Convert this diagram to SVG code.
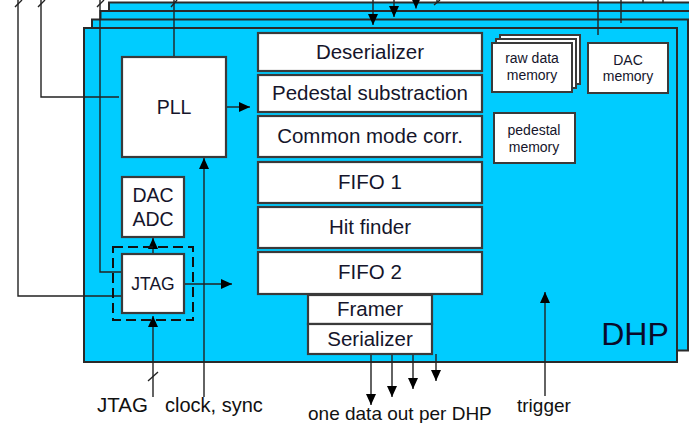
<svg xmlns="http://www.w3.org/2000/svg" width="689" height="423" viewBox="0 0 689 423">
<style>
.board{fill:#00CCFF;stroke:#2a2a2a;stroke-width:2}
.blk{fill:#ffffff;stroke:#3a3a3a;stroke-width:2.2}
.mem{fill:#ffffff;stroke:#3a3a3a;stroke-width:2}
.ln{fill:none;stroke:#222;stroke-width:1.4}
.t{font-family:"Liberation Sans",Arial,sans-serif;fill:#15152b;text-anchor:middle}
.b{font-size:20.5px}
.s{font-size:14px}
.lbl{font-family:"Liberation Sans",Arial,sans-serif;fill:#111;font-size:19px}
</style>
<defs>
<marker id="ah" markerUnits="userSpaceOnUse" markerWidth="12" markerHeight="10" refX="11" refY="5" orient="auto">
<path d="M0,0 L11,5 L0,10 z" fill="#000"/>
</marker>
</defs>
<rect width="689" height="423" fill="#ffffff"/>
<g id="boards">
<rect class="board" x="109" y="2.5" width="594" height="333"/>
<rect class="board" x="100.5" y="11" width="594" height="333"/>
<rect class="board" x="92" y="19.5" width="596" height="331"/>
<rect class="board" x="84" y="28" width="593" height="334"/>
</g>
<text id="dhp" class="t" x="635" y="345" style="font-size:32px;fill:#0a0a2a">DHP</text>
<g id="connectors">
<path class="ln" d="M18,0 V296 H122"/>
<path class="ln" d="M41,0 V97 H119"/>
<path class="ln" d="M100,0 V272 H122"/>
<path class="ln" d="M174,0 V57"/>
<path class="ln" d="M15,7 L22,0 M38,7 L45,0 M97,7 L104,0 M171,7 L177,0 M434,5 L440,0"/>
<path class="ln" d="M373,0 V25" marker-end="url(#ah)"/>
<path class="ln" d="M394,0 V17" marker-end="url(#ah)"/>
<path class="ln" d="M416,0 V8.5" marker-end="url(#ah)"/>
<path class="ln" d="M437,0 V3"/>
<path class="ln" d="M598,0 V35 M621,0 V23 M643,0 V3 M663,0 V3"/>
<path class="ln" d="M226,107 H250" marker-end="url(#ah)"/>
<path class="ln" d="M153,254 V238" marker-end="url(#ah)"/>
<path class="ln" d="M184,284 H232" marker-end="url(#ah)"/>
<path class="ln" d="M204,397 V158" marker-end="url(#ah)"/>
<path class="ln" d="M153,397 V316" marker-end="url(#ah)"/>
<path class="ln" d="M148,381 L158,372"/>
<path class="ln" d="M371,354 V405" marker-end="url(#ah)"/>
<path class="ln" d="M392,354 V397" marker-end="url(#ah)"/>
<path class="ln" d="M413,354 V389" marker-end="url(#ah)"/>
<path class="ln" d="M436,354 V381" marker-end="url(#ah)"/>
<path class="ln" d="M545,396 V292" marker-end="url(#ah)"/>
</g>
<g id="pll"><rect class="blk" x="122" y="57" width="104" height="100"/><text class="t" x="174" y="114" style="font-size:19.5px">PLL</text></g>
<g id="dacadc"><rect class="blk" x="122" y="177" width="62" height="60"/><text class="t" x="153" y="202" style="font-size:19.5px">DAC</text><text class="t" x="153" y="226" style="font-size:19.5px">ADC</text></g>
<g id="jtagbox"><rect x="113" y="247" width="80" height="73" fill="none" stroke="#111" stroke-width="2" stroke-dasharray="10,5"/></g>
<g id="jtag"><rect class="blk" x="122" y="254" width="62" height="59" fill="#fff"/><text class="t" x="153" y="290" style="font-size:17.5px">JTAG</text></g>
<g id="deserializer"><rect class="blk" x="258" y="33" width="224" height="38"/><text class="t b" x="370" y="59">Deserializer</text></g>
<g id="pedestal"><rect class="blk" x="258" y="75" width="224" height="37"/><text class="t b" x="370" y="100">Pedestal substraction</text></g>
<g id="cmc"><rect class="blk" x="258" y="116" width="224" height="41"/><text class="t b" x="370" y="143">Common mode corr.</text></g>
<g id="fifo1"><rect class="blk" x="258" y="162" width="224" height="41"/><text class="t b" x="370" y="189">FIFO 1</text></g>
<g id="hitfinder"><rect class="blk" x="258" y="207" width="224" height="41"/><text class="t b" x="370" y="234">Hit finder</text></g>
<g id="fifo2"><rect class="blk" x="258" y="252" width="224" height="42"/><text class="t b" x="370" y="279">FIFO 2</text></g>
<g id="framer"><rect class="blk" x="308" y="295" width="124" height="29"/><text class="t b" x="370" y="316">Framer</text></g>
<g id="serializer"><rect class="blk" x="308" y="324" width="124" height="30"/><text class="t b" x="370" y="346">Serializer</text></g>
<g id="rawmem">
<rect class="mem" x="500" y="35" width="80" height="49"/>
<rect class="mem" x="496" y="39" width="80" height="49"/>
<rect class="mem" x="492" y="43" width="80" height="49"/>
<text class="t s" x="532" y="63">raw data</text><text class="t s" x="532" y="80">memory</text>
</g>
<g id="dacmem"><rect class="mem" x="588" y="43" width="80" height="50"/><text class="t s" x="628" y="65">DAC</text><text class="t s" x="628" y="81">memory</text></g>
<g id="pedmem"><rect class="mem" x="494" y="113" width="81" height="50"/><text class="t s" x="534" y="135">pedestal</text><text class="t s" x="534" y="152">memory</text></g>
<text class="lbl" x="97" y="412" style="font-size:20.5px">JTAG</text>
<text class="lbl" x="165" y="412" style="font-size:20px">clock, sync</text>
<text class="lbl" x="308" y="420">one data out per DHP</text>
<text class="lbl" x="517" y="412">trigger</text>
</svg>
